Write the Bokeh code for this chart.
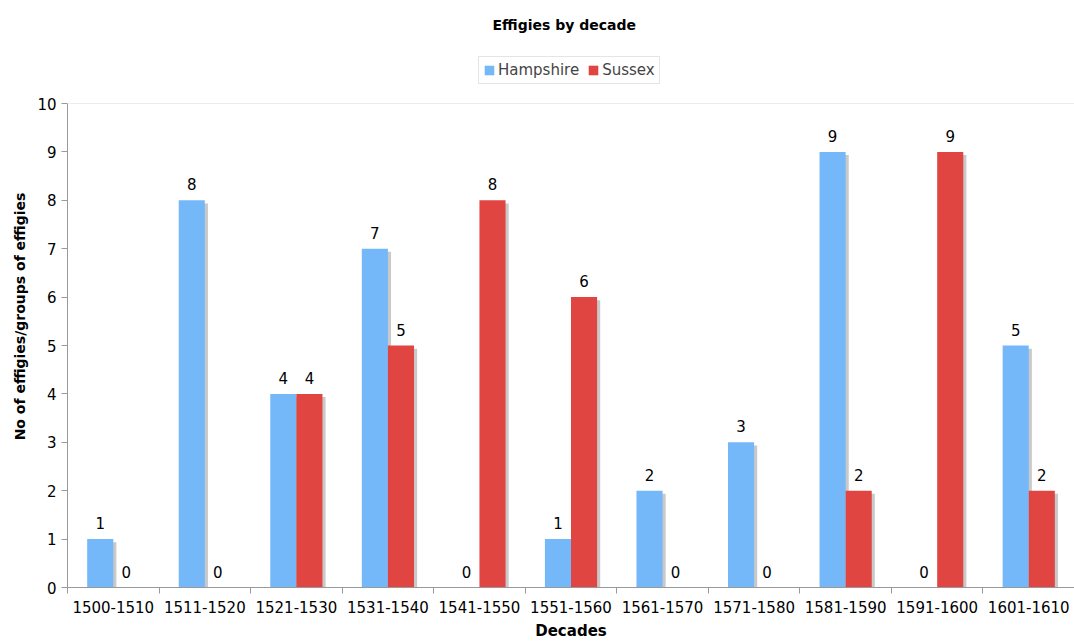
from bokeh.plotting import figure
from bokeh.models import (ColumnDataSource, FixedTicker, Legend, LegendItem, Span, Range1d, Title)
from bokeh.core.properties import value
from bokeh.embed import file_html
from bokeh.resources import INLINE

decades = ["1500-1510", "1511-1520", "1521-1530", "1531-1540", "1541-1550", "1551-1560",
           "1561-1570", "1571-1580", "1581-1590", "1591-1600", "1601-1610"]
hampshire = [1, 8, 4, 7, 0, 1, 2, 3, 9, 0, 5]
sussex = [0, 0, 4, 5, 8, 6, 0, 0, 2, 9, 2]
y_ticks = list(range(0, 11))
Y_MAX = 10

FONT = "DejaVu Sans"
BLUE = "#74b8f9"
RED = "#e04541"
SHADOW = "#c9c9c9"
BW = 0.285
OFF = BW / 2

centers = [i + 0.5 for i in range(len(decades))]
src_h = ColumnDataSource(dict(x=[c - OFF for c in centers], top=hampshire,
                              sx=[c - OFF + 0.034 for c in centers],
                              stop=[max(v - 0.065, 0) for v in hampshire],
                              lbl=[str(v) for v in hampshire]))
src_s = ColumnDataSource(dict(x=[c + OFF for c in centers], top=sussex,
                              sx=[c + OFF + 0.034 for c in centers],
                              stop=[max(v - 0.065, 0) for v in sussex],
                              lbl=[str(v) for v in sussex]))

# frame extends above the value axis so the legend can sit inside it
p = figure(width=1074, height=642, output_backend="svg", toolbar_location=None,
           x_range=Range1d(0, len(decades)), y_range=Range1d(0, 542 / 48.4),
           min_border_left=67, min_border_right=0, min_border_top=45, min_border_bottom=55,
           title=None)
p.outline_line_color = None
p.xgrid.visible = False
p.ygrid.visible = False
p.background_fill_color = "white"
p.border_fill_color = "white"

p.add_layout(Span(location=Y_MAX, dimension="width", line_color="#ececec", line_width=1))

for src in (src_h, src_s):
    p.vbar(x="sx", top="stop", bottom=0, width=BW, source=src, fill_color=SHADOW,
           line_color=None)
rh = p.vbar(x="x", top="top", bottom=0, width=BW, source=src_h, fill_color=BLUE,
            line_color=None)
rs = p.vbar(x="x", top="top", bottom=0, width=BW, source=src_s, fill_color=RED,
            line_color=None)

for src in (src_h, src_s):
    p.text(x="x", y="top", text="lbl", source=src, text_align="center",
           text_baseline="middle", y_offset=-16, text_font=value(FONT),
           text_font_size="15px", text_color="black")

# x axis: labels at centres, ticks at boundaries
p.xaxis.ticker = FixedTicker(ticks=centers, minor_ticks=list(range(len(decades) + 1)))
p.xaxis.major_label_overrides = {c: d for c, d in zip(centers, decades)}
p.xaxis.major_tick_out = 0
p.xaxis.major_tick_in = 0
p.xaxis.minor_tick_out = 6
p.xaxis.minor_tick_in = 0
p.xaxis.minor_tick_line_color = "#999999"
p.xaxis.axis_line_color = "#999999"
p.xaxis.major_label_text_font = FONT
p.xaxis.major_label_text_font_size = "15px"
p.xaxis.major_label_text_color = "black"
p.xaxis.major_label_standoff = 7
p.xaxis.axis_label = "Decades"
p.xaxis.axis_label_text_font = FONT
p.xaxis.axis_label_text_font_size = "15px"
p.xaxis.axis_label_text_font_style = "bold"
p.xaxis.axis_label_text_color = "black"
p.xaxis.axis_label_standoff = 6

p.yaxis.ticker = FixedTicker(ticks=y_ticks, minor_ticks=[])
p.yaxis.bounds = (0, Y_MAX)
p.yaxis.major_tick_out = 6
p.yaxis.major_tick_in = 0
p.yaxis.major_tick_line_color = "#999999"
p.yaxis.axis_line_color = "#999999"
p.yaxis.major_label_text_font = FONT
p.yaxis.major_label_text_font_size = "15px"
p.yaxis.major_label_text_color = "black"
p.yaxis.major_label_standoff = 5
p.yaxis.axis_label = "No of effigies/groups of effigies"
p.yaxis.axis_label_text_font = FONT
p.yaxis.axis_label_text_font_size = "14px"
p.yaxis.axis_label_text_font_style = "bold"
p.yaxis.axis_label_text_color = "black"
p.yaxis.axis_label_standoff = 6

legend = Legend(items=[LegendItem(label="Hampshire", renderers=[rh]),
                       LegendItem(label="Sussex", renderers=[rs])],
                orientation="horizontal", location=(411, 503),
                label_text_font=FONT, label_text_font_size="15px",
                glyph_width=12, glyph_height=12, label_standoff=3, spacing=8,
                padding=4, margin=0, border_line_color="#cccccc",
                label_height=15)
p.add_layout(legend)

p.add_layout(Title(text="Effigies by decade", align="left", text_font=FONT,
                   text_font_size="14px", text_font_style="bold", text_color="black",
                   standoff=26, offset=425), "above")

open("out.html", "w").write(file_html(p, INLINE))
